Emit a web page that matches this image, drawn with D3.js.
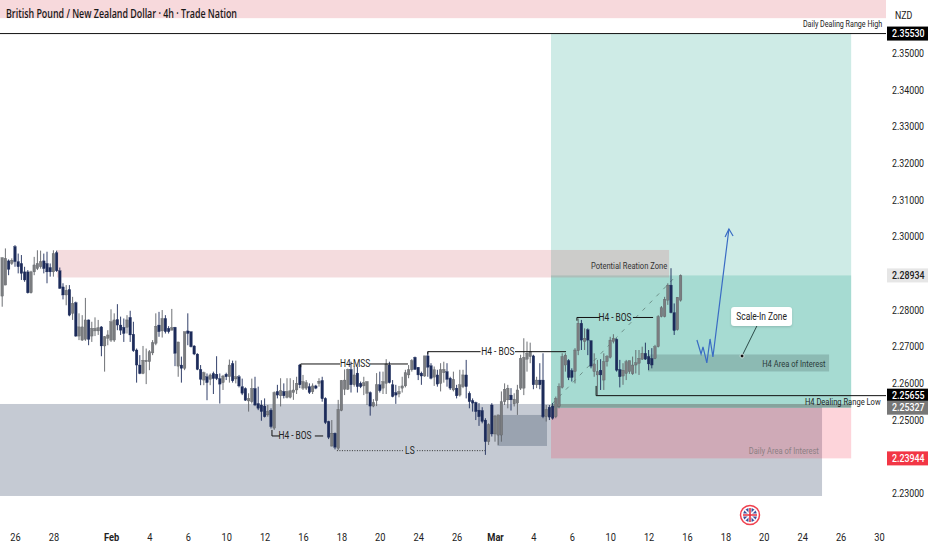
<!DOCTYPE html>
<html>
<head>
<meta charset="utf-8">
<script src="https://cdn.jsdelivr.net/npm/d3@7"></script>
<style>
  body { margin: 0; background: #fff; }
  text { font-family: Roboto, "Liberation Sans", sans-serif; fill: #222; }
</style>
</head>
<body>
<div id="chart"></div>
<script>
// GBP/NZD 4h candles
const opens = [2.2837,2.2867,2.2933,2.2926,2.2972,2.2931,2.2926,2.2903,2.2903,2.2846,
2.2903,2.2912,2.2917,2.2933,2.2926,2.2915,2.2903,2.2955,2.2906,2.2862,
2.2840,2.2855,2.2790,2.2819,2.2728,2.2717,2.2719,2.2772,2.2728,2.2742,
2.2742,2.2753,2.2701,2.2722,2.2717,2.2717,2.2773,2.2758,2.2752,2.2752,
2.2779,2.2733,2.2690,2.2649,2.2626,2.2658,2.2658,2.2682,2.2708,2.2758,
2.2742,2.2776,2.2749,2.2744,2.2752,2.2646,2.2649,2.2640,2.2742,2.2740,
2.2701,2.2679,2.2637,2.2608,2.2617,2.2610,2.2626,2.2624,2.2612,2.2601,
2.2624,2.2617,2.2653,2.2611,2.2617,2.2590,2.2585,2.2551,2.2549,2.2585,
2.2544,2.2540,2.2537,2.2513,2.2526,
2.2477,2.2577,2.2565,2.2577,2.2561,2.2561,2.2574,2.2581,2.2649,2.2586,
2.2586,2.2590,2.2576,2.2592,2.2599,2.2607,2.2558,2.2495,2.2428,2.2463,
2.2422,2.2525,2.2583,2.2583,2.2637,2.2595,2.2627,2.2599,2.2592,2.2572,
2.2574,2.2537,2.2552,2.2595,2.2586,2.2599,2.2649,2.2595,2.2574,2.2570,
2.2586,2.2592,2.2622,2.2636,2.2670,2.2643,2.2627,2.2619,2.2674,2.2647,
2.2616,2.2622,2.2599,2.2628,2.2631,2.2613,2.2581,2.2586,2.2567,2.2590,
2.2622,2.2572,2.2552,2.2547,2.2526,2.2525,2.2499,2.2440,2.2540,2.2461,
2.2458,2.2458,2.2549,2.2554,2.2567,2.2543,2.2545,2.2586,2.2586,2.2665,
2.2672,2.2674,2.2595,2.2608,2.2608,2.2508,2.2534,
2.2537,2.2508,2.2535,2.2588,2.2649,2.2661,2.2634,2.2631,2.2688,2.2763,
2.2713,2.2745,2.2715,2.2631,2.2622,2.2635,2.2608,2.2658,2.2670,2.2713,
2.2719,2.2637,2.2619,2.2626,2.2631,2.2625,2.2649,2.2654,2.2665,2.2681,
2.2672,2.2667,2.2667,2.2699,2.2781,2.2781,2.2826,2.2867,2.2792,2.2745,2.2826];

const highs = [2.2942,2.2967,2.2937,2.2940,2.2976,2.2953,2.2949,2.2917,2.2908,2.2906,
2.2944,2.2962,2.2961,2.2953,2.2958,2.2926,2.2962,2.2961,2.2915,2.2872,
2.2867,2.2867,2.2835,2.2822,2.2790,2.2785,2.2832,2.2773,2.2767,2.2779,
2.2772,2.2755,2.2728,2.2744,2.2801,2.2790,2.2815,2.2781,2.2776,2.2785,
2.2797,2.2767,2.2694,2.2676,2.2701,2.2694,2.2690,2.2717,2.2790,2.2794,
2.2799,2.2785,2.2755,2.2802,2.2753,2.2712,2.2672,2.2740,2.2790,2.2740,
2.2703,2.2681,2.2649,2.2631,2.2626,2.2626,2.2631,2.2673,2.2626,2.2622,
2.2628,2.2664,2.2661,2.2661,2.2622,2.2612,2.2588,2.2572,2.2612,2.2617,
2.2590,2.2553,2.2558,2.2540,2.2531,
2.2577,2.2595,2.2613,2.2599,2.2613,2.2613,2.2608,2.2617,2.2652,2.2622,
2.2608,2.2599,2.2599,2.2595,2.2613,2.2617,2.2561,2.2497,2.2499,2.2465,
2.2554,2.2608,2.2637,2.2639,2.2658,2.2645,2.2645,2.2604,2.2617,2.2604,
2.2577,2.2556,2.2627,2.2631,2.2631,2.2665,2.2658,2.2608,2.2595,2.2592,
2.2617,2.2636,2.2649,2.2665,2.2672,2.2643,2.2631,2.2674,2.2686,2.2654,
2.2645,2.2636,2.2654,2.2658,2.2654,2.2617,2.2631,2.2595,2.2636,2.2636,
2.2663,2.2577,2.2558,2.2549,2.2545,2.2534,2.2504,2.2490,2.2545,2.2513,
2.2513,2.2577,2.2599,2.2595,2.2586,2.2572,2.2595,2.2677,2.2722,2.2713,
2.2710,2.2677,2.2617,2.2654,2.2681,2.2540,2.2540,
2.2545,2.2563,2.2599,2.2681,2.2681,2.2665,2.2640,2.2695,2.2776,2.2772,
2.2749,2.2749,2.2717,2.2681,2.2663,2.2665,2.2681,2.2676,2.2726,2.2733,
2.2722,2.2663,2.2654,2.2663,2.2661,2.2672,2.2690,2.2690,2.2699,2.2710,
2.2690,2.2695,2.2704,2.2785,2.2810,2.2835,2.2872,2.2913,2.2817,2.2834,2.2896];

const lows = [2.2808,2.2867,2.2894,2.2922,2.2917,2.2899,2.2881,2.2876,2.2844,2.2844,
2.2894,2.2908,2.2912,2.2899,2.2872,2.2890,2.2890,2.2903,2.2857,2.2828,
2.2812,2.2782,2.2772,2.2726,2.2717,2.2715,2.2715,2.2703,2.2712,2.2728,
2.2731,2.2673,2.2631,2.2703,2.2712,2.2712,2.2744,2.2731,2.2712,2.2735,
2.2712,2.2685,2.2601,2.2624,2.2624,2.2597,2.2635,2.2676,2.2703,2.2726,
2.2724,2.2735,2.2735,2.2744,2.2646,2.2617,2.2601,2.2635,2.2703,2.2697,
2.2676,2.2635,2.2594,2.2594,2.2553,2.2594,2.2570,2.2608,2.2544,2.2581,
2.2608,2.2601,2.2601,2.2599,2.2588,2.2567,2.2551,2.2522,2.2544,2.2537,
2.2526,2.2497,2.2506,2.2508,2.2476,
2.2472,2.2558,2.2536,2.2558,2.2558,2.2558,2.2554,2.2570,2.2586,2.2581,
2.2581,2.2570,2.2570,2.2583,2.2590,2.2549,2.2488,2.2447,2.2427,2.2419,
2.2417,2.2523,2.2567,2.2581,2.2574,2.2590,2.2574,2.2586,2.2567,2.2540,
2.2511,2.2534,2.2537,2.2574,2.2570,2.2570,2.2599,2.2561,2.2543,2.2561,
2.2574,2.2588,2.2613,2.2631,2.2636,2.2608,2.2595,2.2617,2.2617,2.2610,
2.2592,2.2590,2.2577,2.2601,2.2590,2.2581,2.2577,2.2558,2.2563,2.2586,
2.2558,2.2531,2.2522,2.2499,2.2483,2.2490,2.2404,2.2431,2.2454,2.2440,
2.2431,2.2440,2.2540,2.2531,2.2525,2.2536,2.2513,2.2581,2.2567,2.2631,
2.2654,2.2583,2.2586,2.2583,2.2504,2.2495,2.2499,
2.2500,2.2504,2.2531,2.2585,2.2631,2.2608,2.2604,2.2599,2.2676,2.2690,
2.2690,2.2676,2.2640,2.2617,2.2567,2.2581,2.2581,2.2645,2.2667,2.2708,
2.2631,2.2588,2.2595,2.2608,2.2625,2.2622,2.2626,2.2622,2.2663,2.2663,
2.2635,2.2640,2.2665,2.2697,2.2779,2.2779,2.2813,2.2790,2.2731,2.2743,2.2822];

const closes = [2.2942,2.2940,2.2910,2.2935,2.2931,2.2917,2.2899,2.2881,2.2846,2.2903,
2.2922,2.2926,2.2931,2.2912,2.2903,2.2903,2.2953,2.2906,2.2858,2.2840,
2.2853,2.2785,2.2817,2.2728,2.2753,2.2753,2.2772,2.2719,2.2749,2.2749,
2.2751,2.2701,2.2726,2.2731,2.2767,2.2772,2.2758,2.2744,2.2735,2.2772,
2.2731,2.2688,2.2649,2.2626,2.2662,2.2662,2.2685,2.2710,2.2755,2.2740,
2.2776,2.2740,2.2740,2.2751,2.2681,2.2712,2.2640,2.2740,2.2735,2.2699,
2.2679,2.2637,2.2610,2.2628,2.2601,2.2622,2.2612,2.2612,2.2597,2.2619,
2.2617,2.2649,2.2606,2.2617,2.2592,2.2572,2.2553,2.2558,2.2585,2.2540,
2.2531,2.2522,2.2508,2.2522,2.2481,
2.2574,2.2567,2.2579,2.2565,2.2577,2.2579,2.2581,2.2599,2.2595,2.2604,
2.2601,2.2574,2.2592,2.2586,2.2605,2.2557,2.2492,2.2452,2.2463,2.2425,
2.2528,2.2607,2.2608,2.2637,2.2595,2.2622,2.2590,2.2590,2.2601,2.2604,
2.2537,2.2547,2.2595,2.2579,2.2604,2.2652,2.2601,2.2563,2.2567,2.2577,
2.2592,2.2628,2.2636,2.2661,2.2637,2.2622,2.2619,2.2674,2.2643,2.2613,
2.2636,2.2597,2.2636,2.2637,2.2610,2.2586,2.2610,2.2565,2.2595,2.2622,
2.2590,2.2549,2.2545,2.2522,2.2508,2.2495,2.2440,2.2486,2.2461,2.2510,
2.2513,2.2549,2.2583,2.2586,2.2554,2.2556,2.2581,2.2667,2.2670,2.2681,
2.2686,2.2595,2.2608,2.2595,2.2508,2.2528,2.2507,
2.2504,2.2558,2.2590,2.2672,2.2676,2.2615,2.2615,2.2690,2.2763,2.2717,
2.2722,2.2717,2.2646,2.2652,2.2631,2.2622,2.2658,2.2672,2.2717,2.2722,
2.2635,2.2617,2.2635,2.2658,2.2661,2.2649,2.2655,2.2667,2.2681,2.2665,
2.2652,2.2649,2.2699,2.2781,2.2805,2.2828,2.2867,2.2792,2.2743,2.2834,2.2893];

// axes (2.29 and 2.24 sit behind the price tags in the picture)
const priceTicks = [2.35,2.34,2.33,2.32,2.31,2.30,2.28,2.27,2.26,2.25,2.23];
const timeTickBars = [4,16,34,46,58,70,82,94,106,118,130,142,154,166,178,190,202,214,226,238,250,262,274];
const timeTickLabels = ['26','28','Feb','4','6','10','12','16','18','20','24','26','Mar','4','6','10','12','16','18','20','24','26','30'];

// price levels of the drawn tools
const rangeHigh = 2.35530, rangeLow = 2.25655, entryPrice = 2.25327, lastPrice = 2.28934, stopPrice = 2.23944;

// zones: bar from, bar to, price top, price bottom
const zoneGrey   = [-2, 256.2, 2.25428, 2.22919];
const zoneTop    = [-2, 276.5, 2.3660, 2.3595];
const zonePink   = [17.1, 208.4, 2.29628, 2.28878];
const zoneTarget = [171.5, 265.3, rangeHigh, entryPrice];
const zoneInner  = [171.5, 265.3, lastPrice, entryPrice];
const zoneDaily  = [171.5, 265.3, entryPrice, stopPrice];
const zoneSlate  = [154.8, 170.25, 2.25128, 2.24283];
const zoneH4     = [201.8, 258.4, 2.26778, 2.26315];

// structure lines: bar from, bar to, price
const structureLines = [
  [84.3, 86.8, 2.24555], [97.7, 100.3, 2.24555],
  [93.3, 105.6, 2.26519], [114.9, 126.8, 2.26519],
  [133, 149.5, 2.26854], [160.25, 176.2, 2.26854],
  [179.6, 186.8, 2.27787], [197.1, 203.4, 2.27787],
  [185.6, 276.5, rangeLow], [-2, 276.5, rangeHigh]
];
const structureTicks = [[84.3, 2.24555, 2.2472], [93.3, 2.26519, 2.2643], [133, 2.26854, 2.2678], [179.6, 2.27787, 2.2770], [185.6, rangeLow, 2.2592]];
const sweepLines = [[104.6, 125.3, 2.24155], [129.6, 150.9, 2.24155]];

const structureLabels = [
  ['H4 - BOS', 91.5, 2.24555], ['H4-MSS', 110.3, 2.26519], ['H4 - BOS', 154.9, 2.26854],
  ['H4 - BOS', 191.5, 2.27787], ['LS', 127.4, 2.24155]
];

const diagonal = [[171.8, 2.25428], [210.9, 2.28946]];
const projection = [[217.1, 2.27173], [218.4, 2.26792], [219, 2.26983], [220.2, 2.26546], [221.2, 2.27201], [222.1, 2.2671], [227.1, 2.302]];
const projectionHead = [[225.9, 2.2998], [227.1, 2.302], [228.4, 2.3001]];

const width = 932, height = 550;

const x = d3.scaleLinear().domain([0, 100]).range([2.2, 322.2]);
const y = d3.scaleLinear().domain([2.35, 2.23]).range([53, 493]);

const svg = d3.select('#chart').append('svg')
    .attr('width', width)
    .attr('height', height)
    .style('display', 'block');

// all the small labels in the picture are squeezed sideways
const narrow = function() {
  this.setAttribute('textLength', this.getComputedTextLength() * 0.84);
  this.setAttribute('lengthAdjust', 'spacingAndGlyphs');
};

function zone(z, fill) {
  svg.append('rect')
    .attr('x', x(z[0]))
    .attr('y', y(z[2]))
    .attr('width', x(z[1]) - x(z[0]))
    .attr('height', y(z[3]) - y(z[2]))
    .attr('fill', fill);
}

zone(zoneTop, '#f7d9dc');
zone(zoneGrey, '#c5cad3');
zone(zoneTarget, 'rgba(8,153,129,0.2)');
zone(zoneInner, 'rgba(8,153,129,0.2)');
zone(zoneDaily, 'rgba(244,60,85,0.22)');
zone(zonePink, 'rgba(200,80,90,0.2)');
zone(zoneSlate, 'rgba(90,105,125,0.4)');
zone(zoneH4, 'rgba(80,110,110,0.3)');

// seam where the target box sits on the grey zone
svg.append('line')
  .attr('x1', x(zoneTarget[0])).attr('x2', x(zoneTarget[1]))
  .attr('y1', y(entryPrice) - 2).attr('y2', y(entryPrice) - 2)
  .attr('stroke', '#86a39d').attr('stroke-width', 3.5);

// dashed diagonal under the candles
svg.append('line')
  .attr('x1', x(diagonal[0][0])).attr('y1', y(diagonal[0][1]))
  .attr('x2', x(diagonal[1][0])).attr('y2', y(diagonal[1][1]))
  .attr('stroke', '#6f928b').attr('stroke-width', 1).attr('stroke-dasharray', '4 6');

// candles
const bars = opens.map(function(o, i) {
  return {i: i, o: o, h: highs[i], l: lows[i], c: closes[i]};
});
const upColor = '#7b7d80', downColor = '#1c2b5a';

svg.append('g').selectAll('line').data(bars).join('line')
  .attr('x1', d => x(d.i)).attr('x2', d => x(d.i))
  .attr('y1', d => y(d.h)).attr('y2', d => y(d.l))
  .attr('stroke', d => d.c >= d.o ? '#5f6266' : downColor)
  .attr('stroke-width', 0.9);

svg.append('g').selectAll('rect').data(bars).join('rect')
  .attr('x', d => x(d.i) - 1.3)
  .attr('y', d => y(Math.max(d.o, d.c)))
  .attr('width', 2.6)
  .attr('height', d => Math.max(0.8, Math.abs(y(d.o) - y(d.c))))
  .attr('fill', d => d.c >= d.o ? upColor : downColor)
  .attr('stroke', d => d.c >= d.o ? '#55585c' : downColor)
  .attr('stroke-width', 0.3);

// structure lines
svg.append('g').selectAll('line').data(structureLines).join('line')
  .attr('x1', d => x(d[0])).attr('x2', d => x(d[1]))
  .attr('y1', d => y(d[2])).attr('y2', d => y(d[2]))
  .attr('stroke', '#111').attr('stroke-width', 1);

svg.append('g').selectAll('line').data(structureTicks).join('line')
  .attr('x1', d => x(d[0])).attr('x2', d => x(d[0]))
  .attr('y1', d => y(d[1])).attr('y2', d => y(d[2]))
  .attr('stroke', '#111').attr('stroke-width', 1);

svg.append('g').selectAll('line').data(sweepLines).join('line')
  .attr('x1', d => x(d[0])).attr('x2', d => x(d[1]))
  .attr('y1', d => y(d[2])).attr('y2', d => y(d[2]))
  .attr('stroke', '#333').attr('stroke-width', 1).attr('stroke-dasharray', '1 1.5');

svg.append('g').selectAll('text').data(structureLabels).join('text')
  .attr('x', d => x(d[1])).attr('y', d => y(d[2]) + 3.5)
  .attr('text-anchor', 'middle')
  .attr('font-size', 10)
  .text(d => d[0])
  .each(narrow);

function note(txt, bar, price, size, color) {
  return svg.append('text')
    .attr('x', x(bar)).attr('y', y(price))
    .attr('text-anchor', 'end')
    .attr('font-size', size)
    .style('fill', color)
    .text(txt)
    .each(narrow);
}
note('Daily Dealing Range High', 275, 2.3570, 8.5, '#222');
note('H4 Dealing Range Low', 274.5, 2.2541, 9, '#222');
note('Potential Reation Zone', 207.8, 2.2910, 9, '#333');
note('H4 Area of Interest', 257.3, 2.2643, 9, '#2a3b3a');
note('Daily Area of Interest', 255.2, 2.2407, 9, '#8b7f83');

// projected path
const line = d3.line().x(d => x(d[0])).y(d => y(d[1]));
svg.append('path').attr('d', line(projection))
  .attr('fill', 'none').attr('stroke', '#3a6cc4').attr('stroke-width', 1.2);
svg.append('path').attr('d', line(projectionHead))
  .attr('fill', 'none').attr('stroke', '#3a6cc4').attr('stroke-width', 1.2);

// scale-in callout
const boxBar = 237.3, boxPrice = 2.27814, dotBar = 231.2, dotPrice = 2.26737;
svg.append('line')
  .attr('x1', x(dotBar)).attr('y1', y(dotPrice))
  .attr('x2', x(boxBar)).attr('y2', y(boxPrice))
  .attr('stroke', '#2b4a48').attr('stroke-width', 1);
svg.append('rect')
  .attr('x', x(boxBar) - 30.5).attr('y', y(boxPrice) - 9.5)
  .attr('width', 61).attr('height', 19).attr('rx', 3)
  .attr('fill', '#fff')
  .style('filter', 'drop-shadow(0 1px 1px rgba(0,0,0,.15))');
svg.append('text')
  .attr('x', x(boxBar)).attr('y', y(boxPrice) + 3.5)
  .attr('text-anchor', 'middle').attr('font-size', 10)
  .text('Scale-In Zone')
  .each(narrow);
svg.append('circle')
  .attr('cx', x(dotBar)).attr('cy', y(dotPrice)).attr('r', 2)
  .attr('fill', '#111').attr('stroke', '#cfe6e1').attr('stroke-width', 1);

// title
svg.append('text')
  .attr('x', 6).attr('y', 18)
  .attr('font-size', 12).attr('font-weight', 600)
  .style('font-family', '"Open Sans", sans-serif')
  .style('fill', '#1a1a1a')
  .attr('textLength', 231).attr('lengthAdjust', 'spacingAndGlyphs')
  .text('British Pound / New Zealand Dollar \u00b7 4h \u00b7 Trade Nation');

// right price scale
svg.append('rect').attr('x', 886).attr('y', 0).attr('width', 46).attr('height', 550).attr('fill', '#fff');

const yAxis = svg.append('g')
  .attr('transform', 'translate(892,0)')
  .call(d3.axisRight(y).tickValues(priceTicks).tickSize(0).tickPadding(0).tickFormat(d3.format('.5f')));
yAxis.select('.domain').remove();
yAxis.selectAll('text').attr('font-size', 10.5).style('font-family', 'Roboto, sans-serif').each(narrow);

svg.append('text').attr('x', 895).attr('y', 19).attr('font-size', 10.5).text('NZD').each(narrow);

const tags = [
  [rangeHigh, '#000', '#fff'],
  [lastPrice, '#e6e6e6', '#222'],
  [rangeLow, '#000', '#fff'],
  [entryPrice, '#777', '#fff'],
  [stopPrice, '#f23645', '#fff']
];
tags.forEach(function(t) {
  svg.append('rect')
    .attr('x', 887).attr('y', y(t[0]) - 7)
    .attr('width', 41).attr('height', 14)
    .attr('fill', t[1]);
  svg.append('text')
    .attr('x', 892).attr('y', y(t[0]) + 3.5)
    .attr('font-size', 10.5).attr('font-weight', 500)
    .style('fill', t[2])
    .text(d3.format('.5f')(t[0]))
    .each(narrow);
});

// time scale
const xAxis = svg.append('g')
  .attr('transform', 'translate(0,533)')
  .call(d3.axisBottom(x).tickValues(timeTickBars).tickSize(0).tickPadding(0)
    .tickFormat(function(d, i) { return timeTickLabels[i]; }));
xAxis.select('.domain').remove();
xAxis.selectAll('text')
  .attr('font-size', 11)
  .style('font-family', 'Roboto, sans-serif')
  .attr('font-weight', d => (d === 34 || d === 154) ? 700 : 400)
  .each(narrow);

// news flag on the time scale
const flag = svg.append('g').attr('transform', 'translate(750,515)');
flag.append('circle').attr('r', 9.5).attr('fill', '#fff').attr('stroke', '#f0404f').attr('stroke-width', 1.5);
flag.append('circle').attr('r', 7).attr('fill', '#3d4f9a');
flag.append('path').attr('d', 'M-5,-5L5,5M5,-5L-5,5').attr('stroke', '#fff').attr('stroke-width', 1.6);
flag.append('path').attr('d', 'M0,-7V7M-7,0H7').attr('stroke', '#fff').attr('stroke-width', 3);
flag.append('path').attr('d', 'M0,-7V7M-7,0H7').attr('stroke', '#e5303f').attr('stroke-width', 1.6);
</script>
</body>
</html>
